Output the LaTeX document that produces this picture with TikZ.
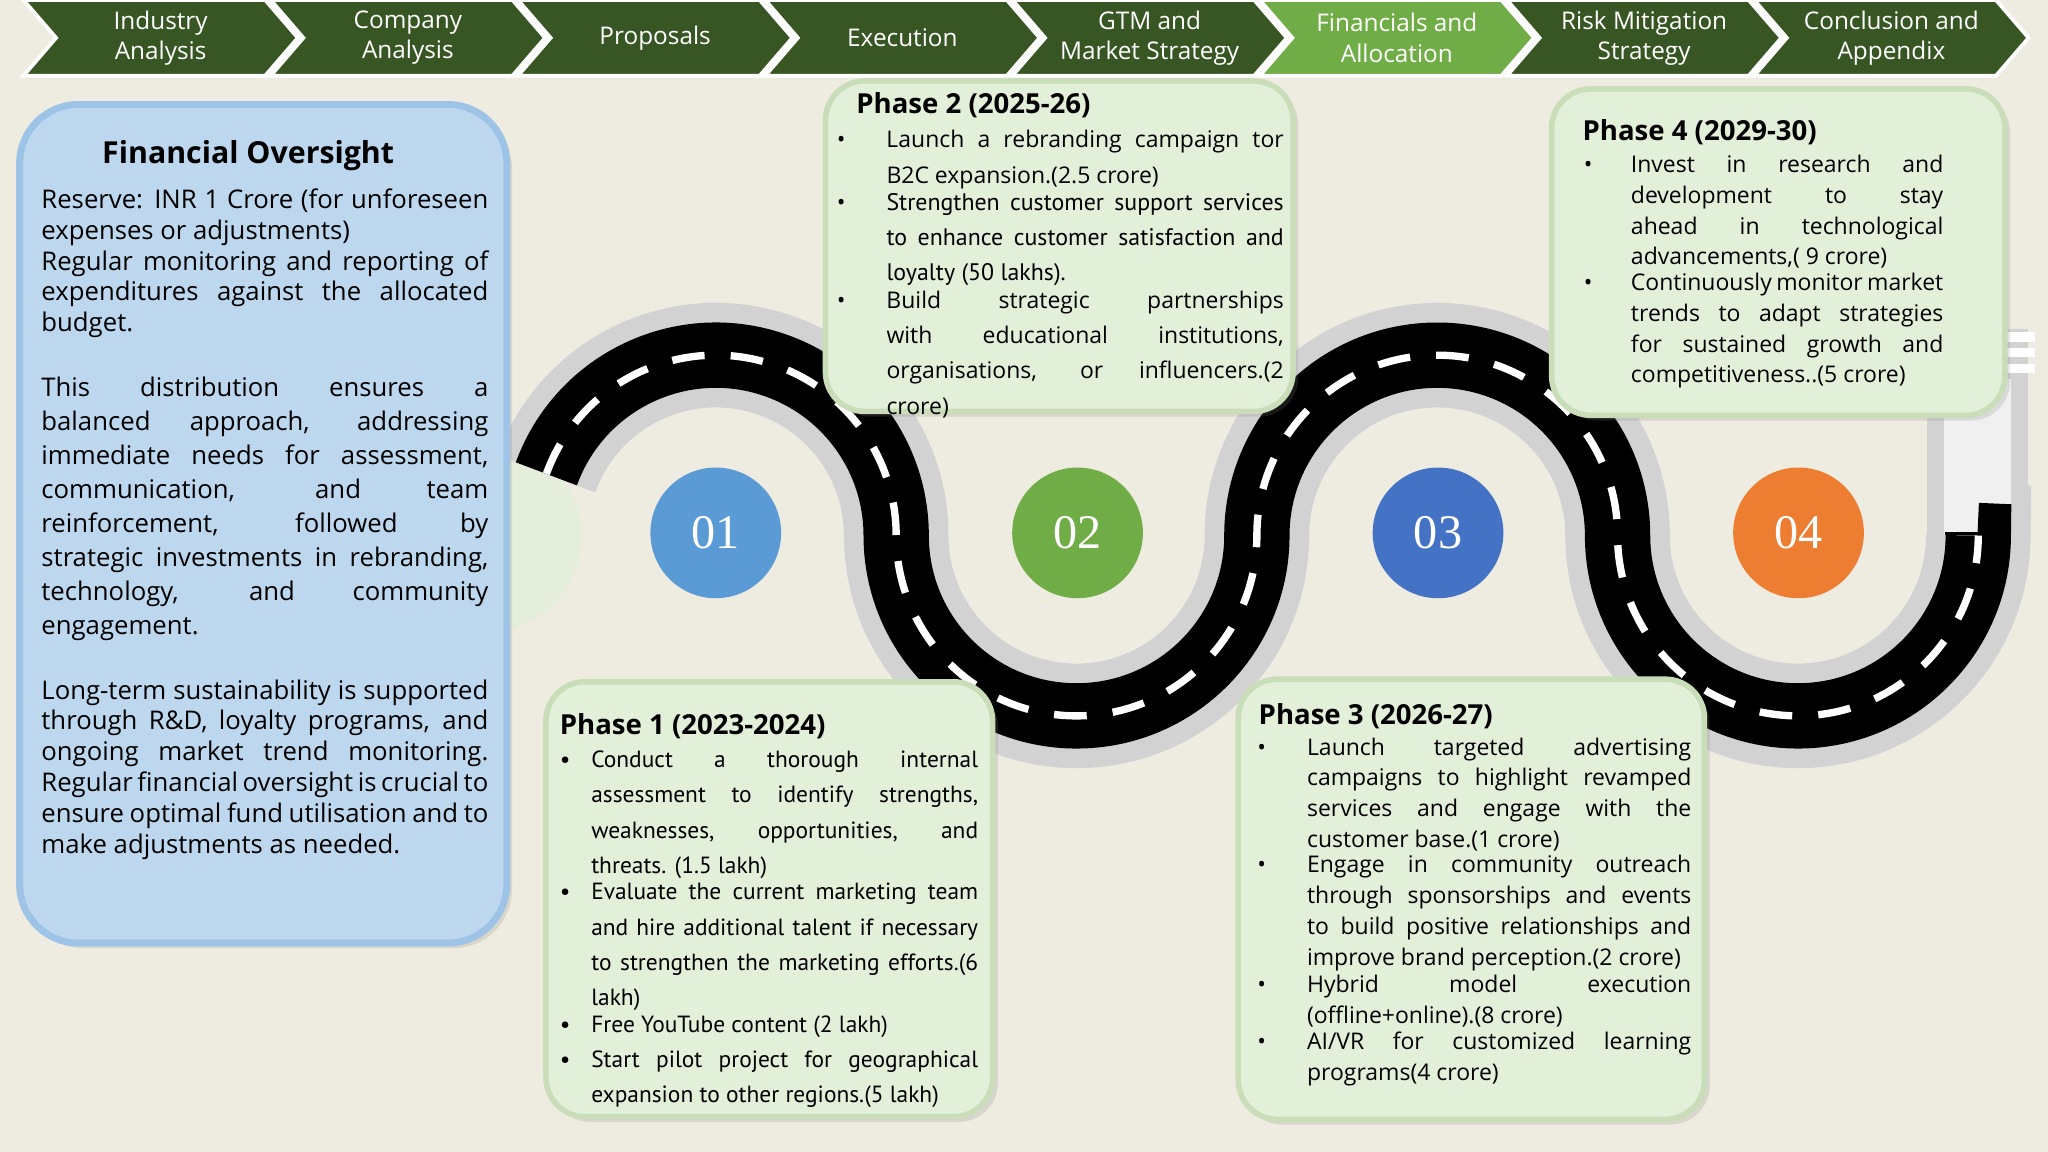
\documentclass[tikz,border=0pt]{standalone}
\usepackage{fontspec}
\setmainfont{Open Sans}
\newfontfamily\narr{PT Sans}
\newfontfamily\numf{Liberation Serif}
\usetikzlibrary{shadows}
\definecolor{bg}{HTML}{EEEBE0}
\definecolor{dkg}{HTML}{375623}
\definecolor{ltg}{HTML}{70AD47}
\definecolor{boxg}{HTML}{E2EFD9}
\definecolor{boxgb}{HTML}{C9DDB8}
\definecolor{blu}{HTML}{BDD7EE}
\definecolor{blub}{HTML}{9DC3E6}
\definecolor{c1}{HTML}{5B9BD5}
\definecolor{c2}{HTML}{70AD47}
\definecolor{c3}{HTML}{4472C4}
\definecolor{c4}{HTML}{ED7D31}
\newcommand\bitem[2]{\noindent\makebox[#1][l]{\textbullet}\parbox[t]{\dimexpr\linewidth-#1}{\hyphenpenalty=10000\exhyphenpenalty=10000 #2}\par}
\tikzset{
 chev/.style={draw=white,line width=0.8pt},
 htxt/.style={text=white,align=center,font=\fontsize{5.3}{6.6}\selectfont},
 pbox/.style={fill=boxg,draw=boxgb,line width=1.2pt,rounded corners=0.3cm,drop shadow={opacity=0.2,shadow xshift=0.04cm,shadow yshift=-0.04cm}},
 ptitle/.style={anchor=north west,inner sep=0pt,font=\bfseries\fontsize{6}{7}\selectfont},
 ptext/.style={anchor=north west,inner sep=0pt,align=justify},
 num/.style={circle,minimum size=1cm,inner sep=0pt,text=white,font=\numf\fontsize{10.5}{11}\selectfont},
}
\begin{document}
\begin{tikzpicture}[x=0.01cm,y=0.01cm]
\fill[bg] (0,0) rectangle (1568,882);
\useasboundingbox (0,0) rectangle (1568,882);
% chevrons
\foreach \i/\t in {0/{Industry\\Analysis},1/{Company\\Analysis},2/{Proposals},3/{Execution},4/{GTM and\\Market Strategy},5/{Financials and\\Allocation},6/{Risk Mitigation\\Strategy},7/{Conclusion and\\Appendix}}{
  \pgfmathsetmacro\xo{18+189.3*\i}
  \ifnum\i=5 \def\cc{ltg}\else\def\cc{dkg}\fi
  \fill[\cc,chev] (\xo,882) -- (\xo+185,882) -- (\xo+210,853) -- (\xo+185,824) -- (\xo,824) -- (\xo+25,853) -- cycle;
  \node[htxt] (h\i) at (\xo+105,853) {\t};
}
% pale circle
\fill[boxg!70!bg] (370,472) circle (0.75cm);
% road
\def\road{(418.3,519.2) arc[start angle=160,end angle=0,radius=1.38cm] arc[start angle=180,end angle=360,radius=1.38cm] arc[start angle=180,end angle=0,radius=1.38cm] arc[start angle=180,end angle=360,radius=1.38cm] -- (1514,472)}
\draw[gray!35,line width=0.8cm] \road;
\fill[gray!35] (1475,472) rectangle (1553,630);
\fill[gray!12] (1488,472) rectangle (1540,592);
\foreach \yy in {600,612,624}{\draw[white,line width=2pt] (1488,\yy) -- (1558,\yy);}
\draw[black,line width=0.5cm] (418.3,519.2) arc[start angle=160,end angle=0,radius=1.38cm] arc[start angle=180,end angle=360,radius=1.38cm] arc[start angle=180,end angle=0,radius=1.38cm] arc[start angle=180,end angle=360,radius=1.38cm] -- (1514,472);
\fill[black] (1489,472) rectangle (1539,475);
\draw[white,line width=1.6pt,dash pattern=on 0.25cm off 0.2cm] (418.3,519.2) arc[start angle=160,end angle=0,radius=1.38cm] arc[start angle=180,end angle=360,radius=1.38cm] arc[start angle=180,end angle=0,radius=1.38cm] arc[start angle=180,end angle=360,radius=1.38cm];
% numbers
\node[num,fill=c1] (n1) at (548,474) {01};
\node[num,fill=c2] (n2) at (825,474) {02};
\node[num,fill=c3] (n3) at (1101,474) {03};
\node[num,fill=c4] (n4) at (1377,474) {04};
% financial oversight
\draw[fill=blu,draw=blub,line width=1.5pt,rounded corners=0.45cm,drop shadow={opacity=0.2,shadow xshift=0.04cm,shadow yshift=-0.04cm}] (15,160) rectangle (388,802);
\node[font=\bfseries\fontsize{6.6}{8}\selectfont] (fot) at (190,763) {Financial Oversight};
\node[ptext,text width=3.42cm,font=\fontsize{5.6}{6.7}\selectfont] (fob) at (31,738) {\hyphenpenalty=10000\exhyphenpenalty=10000 Reserve: INR 1 Crore (for unforeseen expenses or adjustments)\par
Regular monitoring and reporting of expenditures against the allocated budget.\par\vspace{6.7pt}
\fontsize{5.6}{7.4}\selectfont This distribution ensures a balanced approach, addressing immediate needs for assessment, communication, and team reinforcement, followed by strategic investments in rebranding, technology, and community engagement.\par\vspace{7.4pt}
Long-term sustainability is supported through R\&D, loyalty programs, and ongoing market trend monitoring. Regular financial oversight is crucial to ensure optimal fund utilisation and to make adjustments as needed.};
% phase boxes
\draw[pbox] (632,567) rectangle (990,820);
\draw[pbox] (1188,564) rectangle (1535,814);
\draw[pbox] (418,27) rectangle (760,360);
\draw[pbox] (948,25) rectangle (1305,362);
% phase 2
\node[ptitle] (p2t) at (655,812) {Phase 2 (2025-26)};
\node[ptext,text width=3.42cm,font=\fontsize{5.0}{7.7}\selectfont] (p2b) at (640,783) {
\bitem{0.38cm}{Launch a rebranding campaign tor B2C expansion.(2.5 crore)}
\bitem{0.38cm}{{\narr\fontsize{5.2}{7.7}\selectfont Strengthen customer support services to enhance customer satisfaction and loyalty (50 lakhs).}}
\bitem{0.38cm}{Build strategic partnerships with educational institutions, organisations, or influencers.(2 crore)}};
% phase 4
\node[ptitle] (p4t) at (1211,791) {Phase 4 (2029-30)};
\node[ptext,text width=2.75cm,font=\fontsize{5.0}{6.7}\selectfont] (p4b) at (1212,764) {
\bitem{0.36cm}{Invest in research and development to stay ahead in technological advancements,( 9 crore)}
\bitem{0.36cm}{Continuously monitor market trends to adapt strategies for sustained growth and competitiveness..(5 crore)}};
% phase 1
\node[ptitle] (p1t) at (428,336) {Phase 1 (2023-2024)};
\node[ptext,text width=3.2cm,font=\narr\fontsize{5.1}{7.7}\selectfont] (p1b) at (428,308) {
\bitem{0.24cm}{Conduct a thorough internal assessment to identify strengths, weaknesses, opportunities, and threats. (1.5 lakh)}
\bitem{0.24cm}{Evaluate the current marketing team and hire additional talent if necessary to strengthen the marketing efforts.(6 lakh)}
\bitem{0.24cm}{Free YouTube content (2 lakh)}
\bitem{0.24cm}{Start pilot project for geographical expansion to other regions.(5 lakh)}};
% phase 3
\node[ptitle] (p3t) at (963,344) {Phase 3 (2026-27)};
\node[ptext,text width=3.32cm,font=\fontsize{5.0}{6.7}\selectfont] (p3b) at (962,318) {
\bitem{0.38cm}{Launch targeted advertising campaigns to highlight revamped services and engage with the customer base.(1 crore)}
\bitem{0.38cm}{Engage in community outreach through sponsorships and events to build positive relationships and improve brand perception.(2 crore)}
\bitem{0.38cm}{Hybrid model execution (offline+online).(8 crore)}
\bitem{0.38cm}{AI/VR for customized learning programs(4 crore)}};
\end{tikzpicture}
\end{document}
